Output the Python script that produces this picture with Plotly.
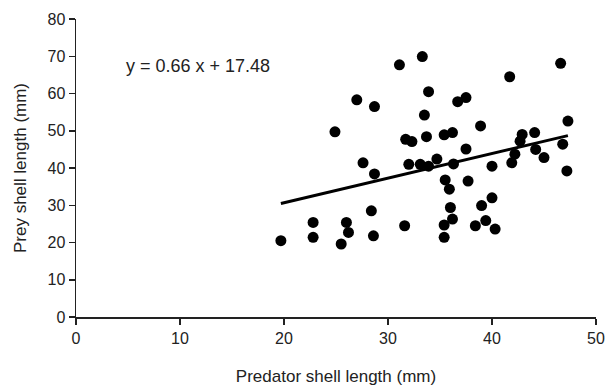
import plotly.graph_objects as go

predator = [19.7, 22.8, 22.8, 24.9, 25.5, 26.0, 26.2, 27.0, 27.6, 28.4,
            28.6, 28.7, 28.7, 31.1, 31.6, 31.7, 32.0, 32.3, 33.1, 33.3,
            33.5, 33.7, 33.9, 33.9, 34.7, 35.4, 35.5, 35.9, 36.0, 36.2,
            35.4, 35.4, 36.2, 36.3, 36.7, 37.5, 37.5, 37.7, 38.4, 38.9,
            39.0, 39.4, 40.0, 40.0, 40.3, 41.7, 41.9, 42.2, 42.7, 42.9,
            44.1, 44.2, 45.0, 46.6, 46.8, 47.3, 47.2]
prey = [20.5, 25.4, 21.4, 49.7, 19.6, 25.4, 22.7, 58.3, 41.4, 28.5,
        21.8, 56.5, 38.4, 67.7, 24.5, 47.7, 41.0, 47.1, 41.0, 69.9,
        54.2, 48.4, 60.5, 40.5, 42.4, 48.9, 36.8, 34.3, 29.4, 26.3,
        24.7, 21.4, 49.5, 41.1, 57.8, 58.9, 45.1, 36.5, 24.5, 51.3,
        29.9, 25.9, 32.0, 40.5, 23.6, 64.5, 41.4, 43.7, 47.2, 49.0,
        49.5, 45.0, 42.8, 68.1, 46.4, 52.6, 39.2]

slope = 0.66
intercept = 17.48
x_ticks = [0, 10, 20, 30, 40, 50]
y_ticks = [0, 10, 20, 30, 40, 50, 60, 70, 80]

fit_x = [min(predator), max(predator)]
fit_y = [slope * v + intercept for v in fit_x]

FONT = "Liberation Sans, Arial, sans-serif"
TXT = "#222222"

fig = go.Figure()
fig.add_trace(go.Scatter(x=predator, y=prey, mode="markers",
                         marker=dict(size=11, color="black"),
                         showlegend=False, hoverinfo="skip", cliponaxis=False))
fig.add_trace(go.Scatter(x=fit_x, y=fit_y, mode="lines",
                         line=dict(color="black", width=3),
                         showlegend=False, hoverinfo="skip"))

fig.add_annotation(x=4.6, y=67.4, xref="x", yref="y",
                   text=f"y = {slope:.2f} x + {intercept:.2f}",
                   showarrow=False, xanchor="left", yanchor="middle",
                   font=dict(family=FONT, size=18, color=TXT))

axis_common = dict(showgrid=False, zeroline=False, showline=True,
                   linecolor="#222222", linewidth=1.5, ticks="outside",
                   ticklen=6, tickwidth=1.5, tickcolor="#222222",
                   automargin=False,
                   tickfont=dict(family=FONT, size=16, color=TXT))

fig.update_xaxes(range=[0, 50], tickvals=x_ticks, **axis_common,
                 title=dict(text="Predator shell length (mm)", standoff=24,
                            font=dict(family=FONT, size=17, color=TXT)))
fig.update_yaxes(range=[0, 80], tickvals=y_ticks, **axis_common,
                 title=dict(text="Prey shell length (mm)", standoff=16,
                            font=dict(family=FONT, size=17, color=TXT)))

fig.update_layout(width=607, height=390,
                  margin=dict(l=76, r=11, t=19, b=73),
                  paper_bgcolor="white", plot_bgcolor="white")

fig.write_html("out.html",
               config={"displayModeBar": False, "staticPlot": True},
               post_script="document.body.style.margin='0';"
                           "document.body.style.overflow='hidden';")
